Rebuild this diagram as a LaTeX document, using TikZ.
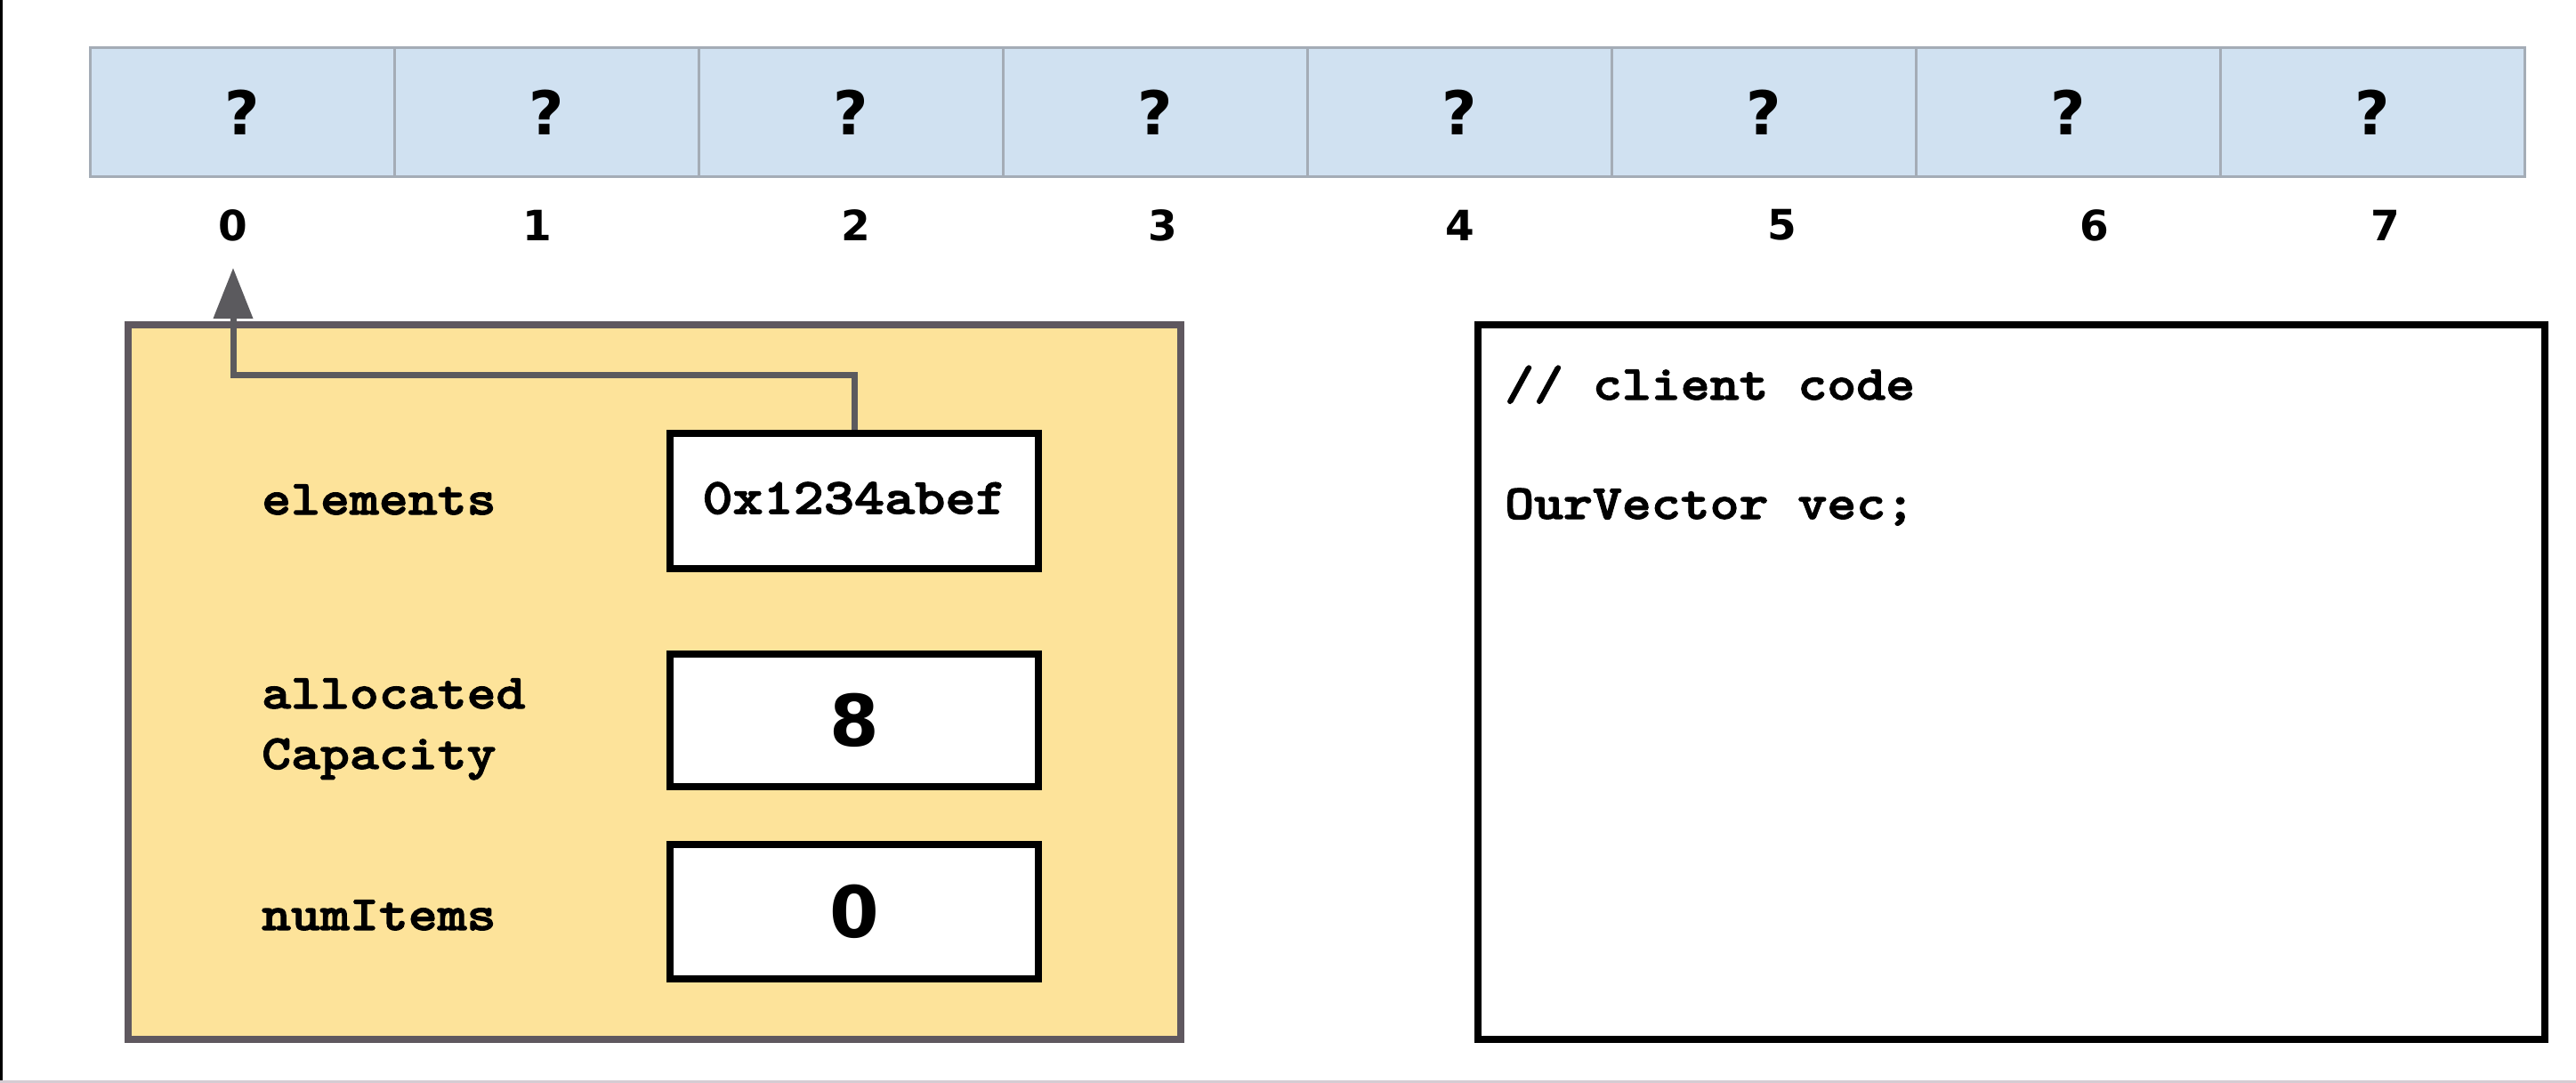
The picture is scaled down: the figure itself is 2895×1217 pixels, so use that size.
\documentclass[tikz,border=0pt]{standalone}
\usepackage{fontspec}
\usetikzlibrary{arrows.meta}

% typewriter face for field names and code, sans face for numbers
\newfontfamily\codefont{lmmonolt10-bold.otf}[FakeStretch=1.14, FakeBold=2.2]
\newfontfamily\numfont{DejaVu Sans}

\definecolor{cellblue}{HTML}{D0E1F1}
\definecolor{cellline}{HTML}{A4ACB6}
\definecolor{objfill}{HTML}{FDE39A}
\definecolor{objline}{HTML}{5F585F}
\definecolor{ptrgray}{HTML}{5B5A5E}
\definecolor{edgeline}{HTML}{D6CCD3}

\tikzset{
  cell/.style={draw=cellline, fill=cellblue, line width=3pt, minimum width=342pt,
    minimum height=145pt, inner sep=0pt, font=\numfont\bfseries\fontsize{68}{68}\selectfont},
  idx/.style={inner sep=0pt, font=\numfont\bfseries\fontsize{47}{47}\selectfont},
  objbox/.style={draw=objline, fill=objfill, line width=8pt, minimum width=1183pt,
    minimum height=803pt, inner sep=0pt},
  valbox/.style={draw=black, fill=white, line width=8pt, minimum width=414pt,
    inner sep=0pt},
  bignum/.style={font=\numfont\bfseries\fontsize{80}{80}\selectfont},
  codetxt/.style={inner sep=0pt, anchor=base west, font=\codefont\fontsize{55}{55}\selectfont},
  codebox/.style={draw=black, fill=white, line width=8pt, minimum width=1199pt,
    minimum height=803pt, inner sep=0pt},
  ptr/.style={draw=ptrgray, line width=7pt, line join=miter,
    -{Triangle[width=43pt,length=57pt]}}
}

\begin{document}
\begin{tikzpicture}[x=1pt,y=-1pt]
  \fill[white] (0,0) rectangle (2895,1217);
  \useasboundingbox (0,0) rectangle (2895,1217);
  % frame edges
  \fill[black] (0,0) rectangle (3,1217);
  \fill[edgeline] (0,1214) rectangle (2895,1217);

  % the array of eight slots
  \foreach \i in {0,...,7} {
    \node[cell] (c\i) at ({272.5+342*\i},126) {?};
  }
  % slot indices
  \foreach \i/\x in {0/262,1/604,2/962,3/1307,4/1641,5/2003,6/2354,7/2681} {
    \node[idx] (i\i) at (\x,253) {\i};
  }

  % the vector object
  \node[objbox] (obj) at (735.5,766.5) {};
  \node[valbox, minimum height=152pt, font=\codefont\fontsize{57}{57}\selectfont]
    (ev) at (960,563) {\raisebox{7pt}{0x1234abef}};
  \node[valbox, minimum height=149pt, bignum] (av) at (960,809.5) {8};
  \node[valbox, minimum height=151pt, bignum] (nv) at (960,1024.5) {0};

  \node[codetxt] (elab) at (294,578) {elements};
  \node[codetxt] (alab1) at (294,796) {allocated};
  \node[codetxt] (alab2) at (294,864) {Capacity};
  \node[codetxt] (nlab) at (294,1045) {numItems};

  % pointer from elements to slot 0
  \coordinate (tip) at (262,301);
  \draw[ptr] (ev.north) -- ++(0,-62) -| (tip);

  % client code panel
  \node[codebox] (code) at (2260.5,766.5) {};
  \node[codetxt] (l1) at (1691,449) {// client code};
  \node[codetxt] (l2) at (1691,583) {OurVector vec;};
\end{tikzpicture}
\end{document}
